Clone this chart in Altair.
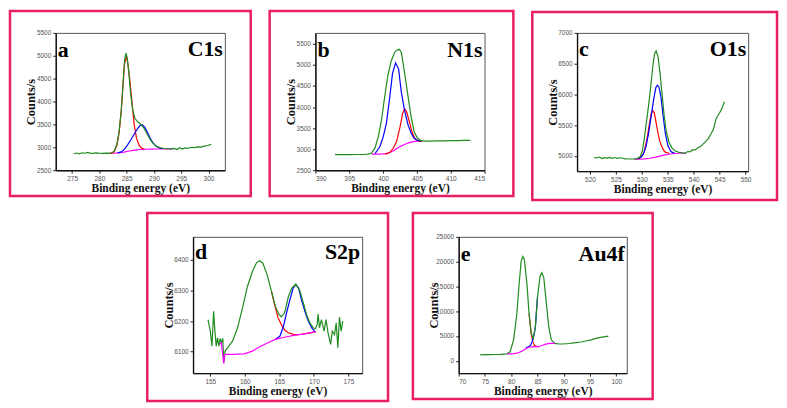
import altair as alt
import pandas as pd

# ---------------- Panel a : C1s ----------------
A_GREEN_X = [275.3, 275.8, 276.3, 276.8, 277.3, 277.8, 278.3, 278.8, 279.4, 280.0, 280.6, 281.2, 281.8, 282.3, 282.7,
             283.2, 283.6, 284.0, 284.3, 284.6, 284.85, 285.1, 285.4, 285.7, 286.1, 286.5, 286.9, 287.3, 287.8, 288.3,
             288.8, 289.3, 289.8, 290.4, 291.0, 291.7, 292.4, 293.1, 293.7, 294.2, 294.7, 295.2, 295.7, 296.2, 296.8,
             297.4, 298.0, 298.6, 299.2, 299.8, 300.5]
A_GREEN_Y = [2860, 2875, 2855, 2880, 2870, 2890, 2872, 2866, 2878, 2870, 2866, 2872, 2868, 2880, 2915,
             3060, 3330, 3800, 4340, 4880, 5060, 4950, 4620, 4200, 3820, 3640, 3570, 3530, 3480, 3390,
             3280, 3170, 3090, 3030, 2995, 2975, 2968, 2964, 2975, 2950, 2990, 2960, 2985, 2975, 3000,
             2995, 3010, 3005, 3025, 3040, 3065]
A_RED_X = [282.0, 282.7, 283.2, 283.6, 284.0, 284.3, 284.6, 284.95, 285.2, 285.5, 285.8, 286.1, 286.4, 286.8, 287.3, 287.8, 288.3]
A_RED_Y = [2862, 2900, 3040, 3310, 3780, 4310, 4820, 4995, 4850, 4550, 4200, 3830, 3480, 3200, 3040, 2975, 2958]
A_BLUE_X = [283.3, 284.0, 284.6, 285.2, 285.8, 286.4, 287.0, 287.5, 287.9, 288.3, 288.8, 289.3, 289.8, 290.4, 291.0, 291.6]
A_BLUE_Y = [2875, 2900, 2960, 3060, 3170, 3290, 3410, 3480, 3490, 3440, 3330, 3200, 3100, 3020, 2985, 2968]
A_MAG_X = [281.5, 282.5, 283.5, 284.5, 285.5, 286.5, 287.5, 288.5, 289.5, 290.5, 291.5, 292.5, 293.5]
A_MAG_Y = [2868, 2870, 2878, 2895, 2920, 2940, 2952, 2958, 2961, 2963, 2964, 2965, 2965]

# ---------------- Panel b : N1s ----------------
B_GREEN_X = [392.9, 394.0, 395.0, 396.0, 397.0, 397.8, 398.3, 398.8, 399.3, 399.8, 400.2, 400.7, 401.2, 401.7, 402.0,
             402.4, 402.7, 403.1, 403.6, 404.1, 404.6, 405.1, 405.6, 406.2, 407.0, 408.0, 409.0, 410.0, 411.0, 412.0, 412.9]
B_GREEN_Y = [2870, 2870, 2871, 2872, 2873, 2880, 2906, 3023, 3297, 3727, 4195, 4742, 5094, 5289, 5350,
             5370, 5300, 4898, 4352, 3805, 3414, 3258, 3203, 3190, 3192, 3195, 3198, 3200, 3203, 3206, 3210]
B_BLUE_X = [398.8, 399.5, 400.0, 400.5, 401.0, 401.4, 401.85, 402.3, 402.7, 403.2, 403.7, 404.2, 404.6, 405.1, 405.7]
B_BLUE_Y = [2890, 3050, 3280, 3620, 4250, 4800, 5050, 4900, 4352, 3900, 3570, 3360, 3258, 3205, 3190]
B_RED_X = [400.3, 401.0, 401.5, 402.0, 402.5, 402.9, 403.2, 403.5, 403.9, 404.3, 404.7, 405.2, 405.8]
B_RED_Y = [2880, 2920, 3020, 3180, 3520, 3850, 3960, 3880, 3640, 3400, 3250, 3195, 3188]
B_MAG_X = [398.3, 399.5, 400.5, 401.0, 401.5, 402.0, 402.5, 403.0, 403.5, 404.0, 404.5, 405.0, 405.6]
B_MAG_Y = [2880, 2882, 2895, 2920, 2960, 3010, 3060, 3100, 3135, 3160, 3178, 3188, 3192]

# ---------------- Panel c : O1s ----------------
C_GREEN_X = [520.8, 521.3, 521.8, 522.3, 522.8, 523.3, 523.8, 524.3, 524.8, 525.3, 525.8, 526.3, 526.8, 527.4, 528.0,
             528.6, 529.2, 529.7, 530.1, 530.5, 530.9, 531.3, 531.7, 532.1, 532.45, 532.75, 533.1, 533.5, 533.9, 534.3,
             534.7, 535.2, 535.8, 536.5, 537.2, 537.9, 538.4, 538.8, 539.3, 539.8, 540.3, 540.8, 541.3, 541.8, 542.3,
             542.8, 543.3, 543.8, 544.3, 544.7, 545.0, 545.4, 545.9]
C_GREEN_Y = [4975, 4965, 4980, 4955, 4970, 4962, 4975, 4960, 4972, 4958, 4968, 4960, 4950, 4948, 4948,
             4950, 4958, 4990, 5080, 5300, 5560, 5820, 6120, 6450, 6660, 6705, 6620, 6350, 6000, 5650,
             5400, 5230, 5130, 5075, 5055, 5050, 5040, 5070, 5065, 5100, 5095, 5130, 5150, 5190, 5230,
             5280, 5350, 5430, 5600, 5660, 5700, 5760, 5880]
C_BLUE_X = [529.0, 529.8, 530.3, 530.8, 531.3, 531.8, 532.3, 532.7, 533.0, 533.3, 533.7, 534.1, 534.5, 535.0, 535.6, 536.3]
C_BLUE_Y = [4950, 4975, 5030, 5150, 5370, 5650, 5930, 6110, 6150, 6120, 5950, 5650, 5380, 5170, 5070, 5040]
C_RED_X = [529.3, 530.0, 530.5, 531.0, 531.4, 531.8, 532.1, 532.4, 532.7, 533.0, 533.4, 533.8, 534.2, 534.6, 535.3]
C_RED_Y = [4950, 4990, 5080, 5280, 5490, 5680, 5735, 5700, 5560, 5420, 5250, 5160, 5090, 5055, 5042]
C_MAG_X = [528.5, 529.5, 530.5, 531.5, 532.5, 533.5, 534.5, 535.5, 536.5, 537.5, 538.5]
C_MAG_Y = [4945, 4946, 4950, 4960, 4975, 4995, 5015, 5030, 5038, 5042, 5044]

# ---------------- Panel d : S2p ----------------
D_GREEN_X = [154.67, 155.0, 155.24, 155.48, 155.67, 155.86, 156.05, 156.24, 156.43, 156.62, 156.81, 156.95, 157.14,
             157.52, 158.24, 158.95, 159.67, 160.38, 161.1, 161.71, 162.14, 162.62, 163.24, 163.86, 164.43, 164.9,
             165.29, 165.76, 166.33, 166.81, 167.38, 168.0, 168.48, 168.95, 169.43, 169.9, 170.24, 170.48, 170.62,
             170.81, 171.1, 171.48, 171.76, 172.05, 172.43, 172.67, 173.0, 173.24, 173.48, 173.71, 173.95, 174.19]
D_GREEN_Y = [6205, 6167, 6118, 6232, 6167, 6118, 6145, 6118, 6143, 6129, 6143, 6064, 6102,
             6113, 6135, 6178, 6243, 6313, 6362, 6391, 6397, 6389, 6351, 6297, 6248, 6223,
             6214, 6227, 6281, 6308, 6321, 6297, 6259, 6221, 6194, 6178, 6175, 6189, 6223,
             6178, 6205, 6167, 6205, 6162, 6124, 6167, 6156, 6194, 6113, 6213, 6167, 6200]
D_RED_X = [163.86, 164.3, 164.8, 165.3, 165.8, 166.3, 166.8, 167.4, 168.2, 169.0, 169.8, 170.3]
D_RED_Y = [6297, 6255, 6212, 6188, 6170, 6162, 6158, 6155, 6157, 6160, 6163, 6165]
D_BLUE_X = [164.4, 165.1, 165.6, 166.1, 166.6, 167.0, 167.4, 167.8, 168.2, 168.7, 169.2, 169.7, 170.2]
D_BLUE_Y = [6140, 6151, 6183, 6232, 6275, 6308, 6319, 6308, 6270, 6232, 6200, 6178, 6165]
D_MAG_X = [156.3, 156.6, 156.95, 157.1, 158.2, 159.9, 161.1, 162.3, 163.5, 164.4, 165.9, 167.3, 168.7, 170.2]
D_MAG_Y = [6125, 6128, 6062, 6091, 6091, 6093, 6102, 6118, 6131, 6140, 6148, 6154, 6158, 6165]

# ---------------- Panel e : Au4f ----------------
E_GREEN_X = [74.1, 75.0, 76.0, 77.0, 78.0, 79.2, 79.8, 80.45, 81.08, 81.5, 81.9, 82.2, 82.5, 83.0, 83.4, 83.8, 84.2,
             84.6, 85.0, 85.5, 85.84, 86.2, 86.7, 87.15, 87.65, 88.3, 89.0, 89.8, 91.0, 92.35, 93.3, 94.2, 95.2,
             96.1, 97.3, 98.5]
E_GREEN_Y = [1200, 1220, 1240, 1260, 1300, 1390, 1850, 4180, 9480, 15450, 20090, 21020, 20420, 15450, 9480, 5500, 4500,
             6830, 12800, 17100, 17770, 16770, 11470, 6830, 4180, 3510, 3420, 3380, 3480, 3650, 3780, 3980, 4200,
             4510, 4750, 4970]
E_RED_X = [83.4, 83.8, 84.1, 84.4, 84.8, 85.2]
E_RED_Y = [9480, 5500, 3850, 3150, 2880, 2860]
E_BLUE_X = [82.8, 83.3, 83.7, 84.0, 84.3, 84.6, 85.0]
E_BLUE_Y = [2600, 2800, 3200, 3900, 5000, 6830, 12800]
E_MAG_X = [79.2, 80.5, 81.1, 81.7, 82.3, 82.8, 83.3, 84.2, 85.1, 85.6, 86.1, 86.6, 87.0, 87.6, 88.3]
E_MAG_Y = [1390, 1450, 1530, 1760, 2060, 2400, 2720, 2850, 2860, 2980, 3180, 3340, 3450, 3500, 3520]

GREEN = "#1f8c1f"
RED = "#ff0000"
BLUE = "#0000ff"
MAG = "#ff00ff"
PINK = "#e91e63"
SERIF = "Liberation Serif"
SANS = "Liberation Sans"
ONE = pd.DataFrame({"k": [0]})


def panel(series, xdom, ydom, xticks, yticks, letter, name, w, h, L, R, T, B, ly, ny):
    xs = alt.Scale(domain=xdom, nice=False, zero=False)
    ys = alt.Scale(domain=ydom, nice=False, zero=False)
    xax = alt.Axis(values=xticks, title="Binding energy (eV)", titleFontSize=11.5, titleY=21,
                   titleBaseline="alphabetic", format="d")
    yax = alt.Axis(values=yticks, title="Counts/s", titleFontSize=12.5, titleX=-21,
                   titleBaseline="alphabetic", format="d")
    layers = []
    for sx, sy, col in series:
        df = pd.DataFrame({"x": sx, "y": sy})
        layers.append(
            alt.Chart(df).mark_line(color=col, strokeWidth=1.2).encode(
                x=alt.X("x:Q", scale=xs, axis=xax),
                y=alt.Y("y:Q", scale=ys, axis=yax),
            )
        )
    frame = alt.Chart(ONE).mark_rect(filled=False, stroke=PINK, strokeWidth=2.5, clip=False).encode(
        x=alt.value(-L), x2=alt.value(w + R), y=alt.value(-T), y2=alt.value(h + B)
    )
    t1 = alt.Chart(ONE).mark_text(font=SERIF, fontWeight="bold", fontSize=22, align="left",
                                  baseline="alphabetic", color="#000").encode(
        x=alt.value(2), y=alt.value(ly), text=alt.value(letter))
    t2 = alt.Chart(ONE).mark_text(font=SERIF, fontWeight="bold", fontSize=22, align="right",
                                  baseline="alphabetic", color="#000").encode(
        x=alt.value(w - 2), y=alt.value(ny), text=alt.value(name))
    return alt.layer(*layers, frame, t1, t2).properties(width=w, height=h)


pa = panel([(A_MAG_X, A_MAG_Y, MAG), (A_RED_X, A_RED_Y, RED), (A_BLUE_X, A_BLUE_Y, BLUE), (A_GREEN_X, A_GREEN_Y, GREEN)],
           [272, 303], [2500, 5500], [275, 280, 285, 290, 295, 300], [2500, 3000, 3500, 4000, 4500, 5000, 5500],
           "a", "C1s", 170, 138, 46, 26, 22, 26, 24, 23)
pb = panel([(B_MAG_X, B_MAG_Y, MAG), (B_RED_X, B_RED_Y, RED), (B_BLUE_X, B_BLUE_Y, BLUE), (B_GREEN_X, B_GREEN_Y, GREEN)],
           [390, 415], [2500, 5760], [390, 395, 400, 405, 410, 415], [2500, 3000, 3500, 4000, 4500, 5000, 5500],
           "b", "N1s", 170, 138, 46, 29, 22, 26, 24, 24)
pc = panel([(C_MAG_X, C_MAG_Y, MAG), (C_RED_X, C_RED_Y, RED), (C_BLUE_X, C_BLUE_Y, BLUE), (C_GREEN_X, C_GREEN_Y, GREEN)],
           [517.5, 550.5], [4750, 7000], [520, 525, 530, 535, 540, 545, 550], [5000, 5500, 6000, 6500, 7000],
           "c", "O1s", 172, 139, 45, 29, 21, 29, 23, 23)
pd_ = panel([(D_RED_X, D_RED_Y, RED), (D_BLUE_X, D_BLUE_Y, BLUE), (D_GREEN_X, D_GREEN_Y, GREEN), (D_MAG_X, D_MAG_Y, MAG)],
            [152.5, 177], [6030, 6475], [155, 160, 165, 170, 175], [6100, 6200, 6300, 6400],
            "d", "S2p", 170, 137, 46, 26, 24, 28, 22, 22)
pe = panel([(E_RED_X, E_RED_Y, RED), (E_BLUE_X, E_BLUE_Y, BLUE), (E_GREEN_X, E_GREEN_Y, GREEN), (E_MAG_X, E_MAG_Y, MAG)],
           [70, 102], [-2500, 25000], [70, 75, 80, 85, 90, 95, 100], [0, 5000, 10000, 15000, 20000, 25000],
           "e", "Au4f", 169, 137, 46, 26, 24, 26, 24, 24)

spacer = alt.Chart(ONE).mark_point(opacity=0).encode(
    x=alt.X("k:Q", axis=None), y=alt.Y("k:Q", axis=None)
).properties(width=68, height=10, view=alt.ViewBackground(stroke="transparent"))

top = alt.hconcat(pa, pb, pc, spacing=15)
bottom = alt.hconcat(spacer, pd_, pe, spacing=21)

chart = alt.vconcat(top, bottom, spacing=9).properties(padding=0, background="white").configure_view(
    stroke="#555", strokeWidth=1
).configure_axis(
    grid=False, labelFont=SANS, labelFontSize=6.5, labelColor="#555", labelPadding=2,
    tickColor="#222", tickSize=3, tickWidth=1, domainColor="#111", domainWidth=1.4,
    titleFont=SERIF, titleFontWeight="bold", titleColor="#111"
)

chart.save("out.html", embed_options={"renderer": "svg", "actions": False})
